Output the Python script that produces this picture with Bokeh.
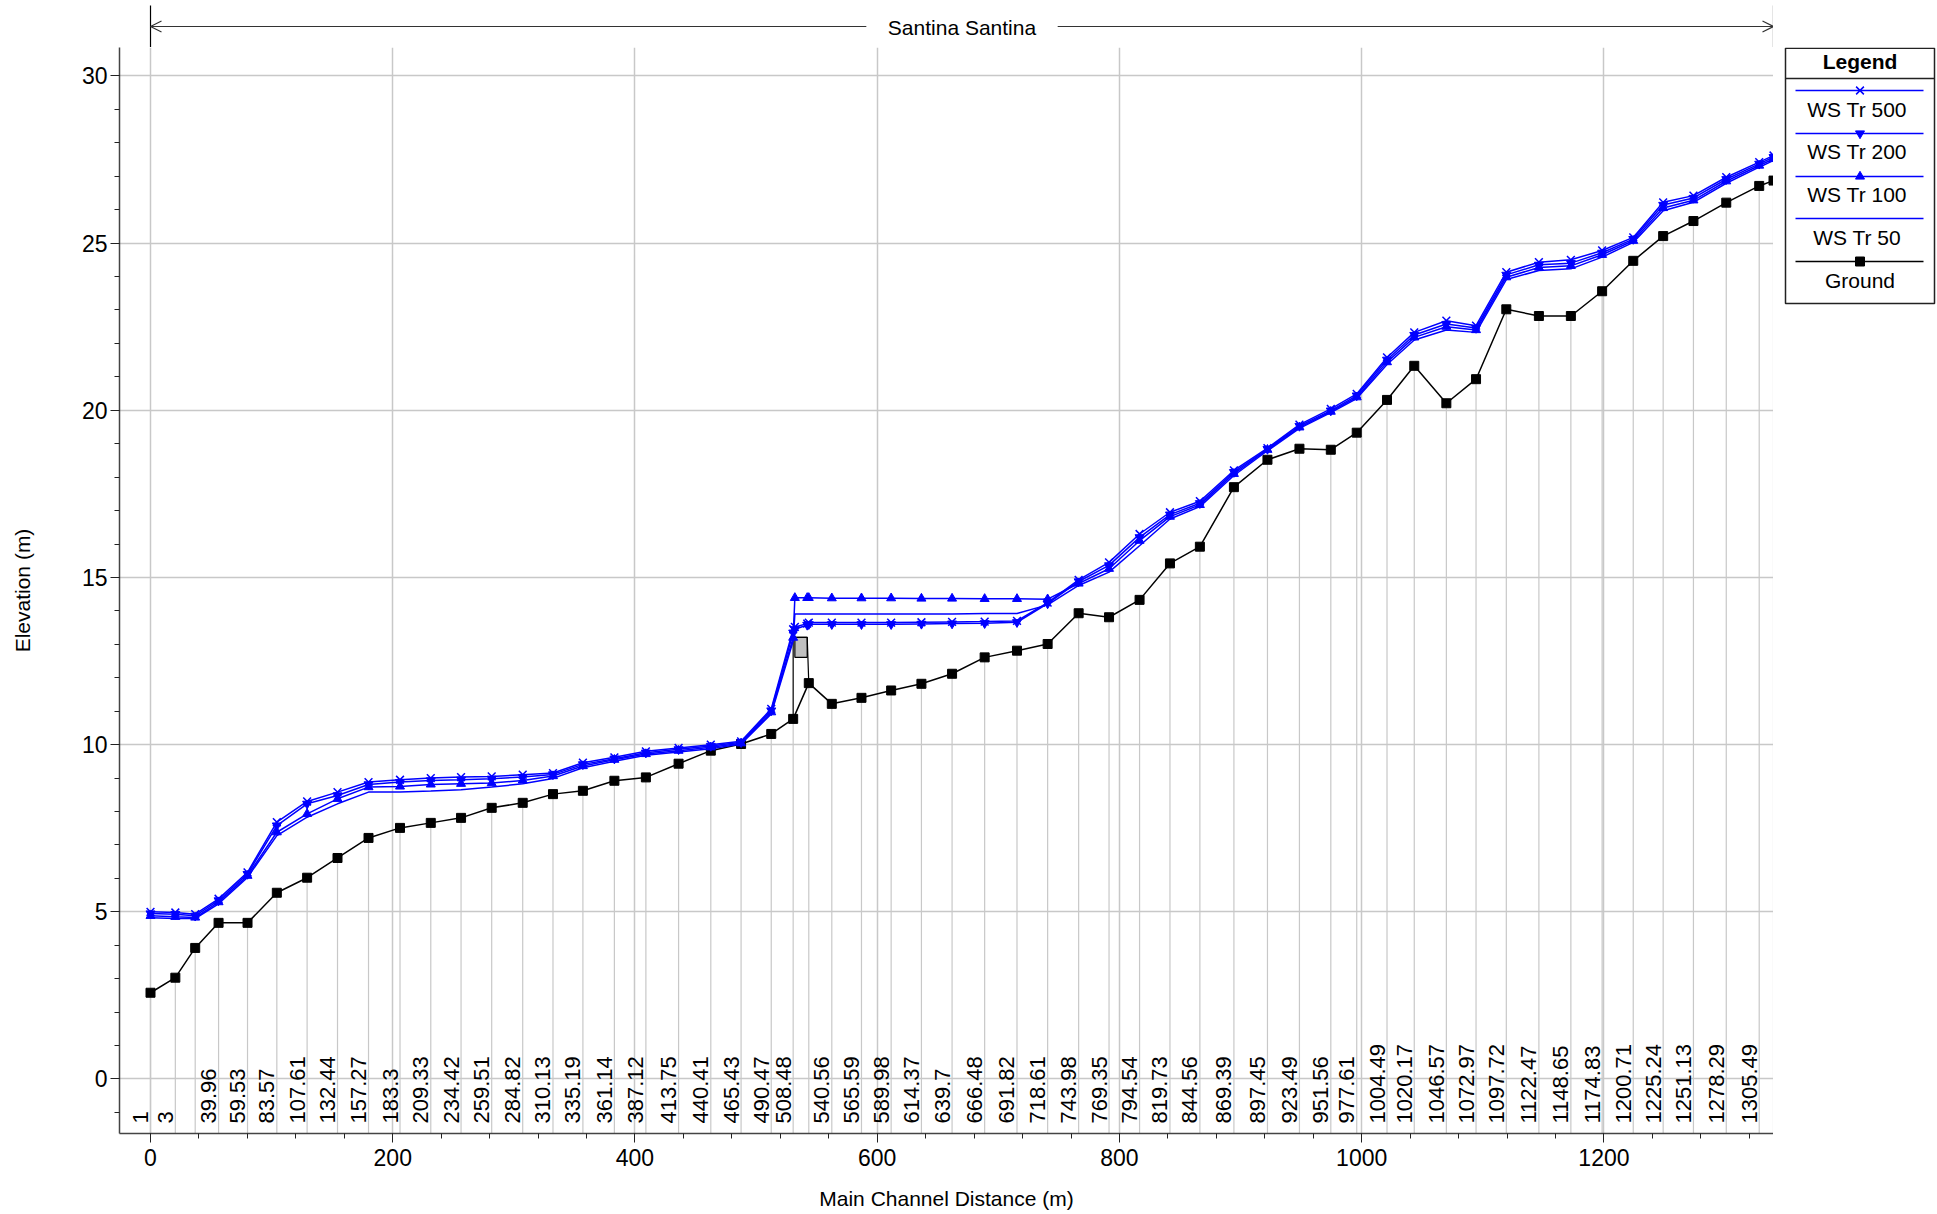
import math
from bokeh.plotting import figure
from bokeh.layouts import column, row
from bokeh.models import Range1d, SingleIntervalTicker, Arrow, OpenHead
from bokeh.embed import file_html
from bokeh.resources import INLINE
from bokeh.core.properties import value

FONT = "Liberation Sans"

# ---------------- data ----------------
reach_name = "Santina Santina"
station_dist = [0.0, 20.5, 36.9, 56.2, 80.1, 104.3, 129.3, 154.4, 180.0, 206.0,
                231.4, 256.4, 281.7, 307.3, 332.3, 357.0, 383.0, 409.0, 436.0, 462.6,
                487.6, 512.5, 530.6, 543.5, 562.5, 587.0, 611.5, 636.5, 661.8, 688.7,
                715.4, 740.7, 766.3, 791.4, 816.6, 841.7, 866.4, 894.5, 922.2, 948.6,
                974.5, 995.9, 1020.9, 1043.4, 1069.9, 1094.4, 1119.4, 1146.3, 1172.7, 1198.5,
                1224.2, 1248.9, 1273.9, 1301.0, 1328.2, 1340.0]
station_labels = ["1", "3", "", "39.96", "59.53", "83.57", "107.61", "132.44", "157.27", "183.3",
                  "209.33", "234.42", "259.51", "284.82", "310.13", "335.19", "361.14", "387.12", "413.75", "440.41",
                  "465.43", "490.47", "508.48", "", "540.56", "565.59", "589.98", "614.37", "639.7", "666.48",
                  "691.82", "718.61", "743.98", "769.35", "794.54", "819.73", "844.56", "869.39", "897.45", "923.49",
                  "951.56", "977.61", "1004.49", "1020.17", "1046.57", "1072.97", "1097.72", "1122.47", "1148.65", "1174.83",
                  "1200.71", "1225.24", "1251.13", "1278.29", "1305.49", ""]
ground = [2.58, 3.03, 3.92, 4.67, 4.67, 5.57, 6.02, 6.61, 7.21, 7.51,
          7.66, 7.81, 8.11, 8.26, 8.52, 8.62, 8.92, 9.02, 9.43, 9.82,
          10.02, 10.32, 10.77, 11.84, 11.22, 11.40, 11.62, 11.82, 12.12, 12.61,
          12.81, 13.01, 13.93, 13.81, 14.33, 15.42, 15.92, 17.70, 18.52, 18.85,
          18.82, 19.33, 20.31, 21.33, 20.21, 20.93, 23.02, 22.82, 22.82, 23.56,
          24.47, 25.21, 25.66, 26.21, 26.71, 26.87]

# bridge (internal sections) between XS 530.6 and XS 543.5
bridge_sections = [532.0, 542.2]
bridge_low_chord = 12.61
bridge_high_chord = 13.21

ws_dist = station_dist[:23] + bridge_sections + station_dist[23:]
ws_500 = [5.00, 4.98, 4.93, 5.39, 6.18, 7.68, 8.30, 8.58, 8.88, 8.95,
          9.00, 9.03, 9.05, 9.10, 9.15, 9.46, 9.62, 9.80, 9.90, 10.00,
          10.10, 11.07, 13.45, 13.52, 13.62,
          13.65, 13.65, 13.65, 13.65, 13.66, 13.67, 13.68, 13.70, 14.25,
          14.93, 15.45, 16.30, 16.95, 17.28, 18.20, 18.87, 19.57, 20.04, 20.49,
          21.58, 22.33, 22.68, 22.53, 24.13, 24.43, 24.50, 24.78, 25.17, 26.22,
          26.42, 26.97, 27.42, 27.62]
ws_200 = [4.95, 4.93, 4.88, 5.34, 6.13, 7.58, 8.23, 8.48, 8.81, 8.88,
          8.93, 8.95, 8.98, 9.03, 9.11, 9.41, 9.58, 9.76, 9.86, 9.96,
          10.07, 11.02, 13.35, 13.45, 13.58,
          13.60, 13.60, 13.60, 13.60, 13.61, 13.62, 13.63, 13.66, 14.22,
          14.88, 15.36, 16.20, 16.88, 17.22, 18.15, 18.84, 19.53, 19.99, 20.44,
          21.51, 22.25, 22.58, 22.46, 24.05, 24.35, 24.40, 24.71, 25.12, 26.14,
          26.35, 26.91, 27.37, 27.57]
ws_100 = [4.88, 4.85, 4.83, 5.29, 6.08, 7.38, 7.93, 8.38, 8.73, 8.75,
          8.81, 8.83, 8.85, 8.93, 9.06, 9.36, 9.55, 9.72, 9.82, 9.92,
          10.04, 10.97, 13.20, 14.39, 14.39,
          14.39, 14.38, 14.38, 14.38, 14.37, 14.37, 14.36, 14.36, 14.35,
          14.82, 15.26, 16.10, 16.82, 17.17, 18.10, 18.82, 19.49, 19.96, 20.39,
          21.44, 22.18, 22.50, 22.40, 23.98, 24.27, 24.32, 24.65, 25.07, 26.05,
          26.28, 26.85, 27.32, 27.52]
ws_50 = [4.82, 4.80, 4.80, 5.24, 6.03, 7.28, 7.83, 8.23, 8.58, 8.58,
         8.61, 8.65, 8.73, 8.83, 8.99, 9.31, 9.50, 9.68, 9.78, 9.88,
         10.02, 10.92, 13.10, 13.91, 13.91,
         13.91, 13.91, 13.91, 13.91, 13.91, 13.91, 13.92, 13.92, 14.18,
         14.76, 15.16, 15.95, 16.75, 17.12, 18.05, 18.79, 19.46, 19.93, 20.35,
         21.37, 22.10, 22.40, 22.33, 23.91, 24.18, 24.23, 24.58, 25.02, 25.97,
         26.22, 26.79, 27.27, 27.47]

legend_names = ["WS  Tr 500", "WS  Tr 200", "WS  Tr 100", "WS  Tr 50", "Ground"]

# ---------------- style ----------------
BLUE = "#0000ff"
GRID = "#c8c8c8"
X_START, X_END = -25.6, 1340.0
Y_START, Y_END = -1.63, 30.85

FIG_W = 1773        # main figure width (frame 119..1773)
LEFT = 119
TOP_H = 47          # strip above the frame
MAIN_H = 1166       # main figure height
FRAME_H = 1086      # frame height of the main figure
LEG_W = 164

xr = Range1d(X_START, X_END)

# ---------------- top strip (reach arrow) ----------------
top = figure(width=FIG_W, height=TOP_H, x_range=xr, y_range=Range1d(TOP_H, 0),
             min_border_left=LEFT, min_border_right=0, min_border_top=0, min_border_bottom=0,
             toolbar_location=None, output_backend="svg",
             x_axis_location=None, y_axis_location=None)
top.grid.visible = False
top.outline_line_color = None
top.background_fill_color = "white"
top.border_fill_color = "white"

reach_start = station_dist[0]
reach_end = station_dist[-1]
reach_mid = (reach_start + reach_end) / 2.0
gap_half = 79.0
top.segment(x0=[reach_start, reach_end], y0=[5, 5], x1=[reach_start, reach_end], y1=[TOP_H, TOP_H],
            line_color="black", line_width=1.2)
top.add_layout(Arrow(x_start=reach_mid - gap_half, y_start=26, x_end=reach_start, y_end=26,
                     line_color="#333333", line_width=1.2,
                     end=OpenHead(size=11, line_color="#333333", line_width=1.2)))
top.add_layout(Arrow(x_start=reach_mid + gap_half, y_start=26, x_end=reach_end, y_end=26,
                     line_color="#333333", line_width=1.2,
                     end=OpenHead(size=11, line_color="#333333", line_width=1.2)))
top.text(x=[reach_mid], y=[27], text=[reach_name], text_align="center", text_baseline="middle",
         text_font=value(FONT), text_font_size="21px", text_color="black")

# ---------------- main profile plot ----------------
p = figure(width=FIG_W, height=MAIN_H, x_range=xr, y_range=Range1d(Y_START, Y_END),
           min_border_left=LEFT, min_border_right=0, min_border_top=0,
           min_border_bottom=MAIN_H - FRAME_H,
           toolbar_location=None, output_backend="svg")
p.outline_line_color = None
p.background_fill_color = "white"
p.border_fill_color = "white"

p.xaxis.ticker = SingleIntervalTicker(interval=200, num_minor_ticks=5)
p.yaxis.ticker = SingleIntervalTicker(interval=5, num_minor_ticks=5)
for g in (p.xgrid, p.ygrid):
    g.grid_line_color = GRID
    g.grid_line_width = 1.5
    g.minor_grid_line_color = None
for ax in (p.xaxis, p.yaxis):
    ax.axis_line_color = "#444444"
    ax.axis_line_width = 1.5
    ax.major_tick_line_color = "#222222"
    ax.minor_tick_line_color = "#222222"
    ax.major_tick_in = 0
    ax.minor_tick_in = 0
    ax.major_tick_out = 9
    ax.minor_tick_out = 5
    ax.major_label_text_font = FONT
    ax.major_label_text_font_size = "23px"
    ax.major_label_text_color = "black"
    ax.axis_label_text_font = FONT
    ax.axis_label_text_font_size = "21px"
    ax.axis_label_text_font_style = "normal"
    ax.axis_label_text_color = "black"
p.xaxis.axis_label = "Main Channel Distance (m)"
p.yaxis.axis_label = "Elevation (m)"
p.xaxis.major_label_standoff = 6
p.xaxis.axis_label_standoff = 18
p.yaxis.major_label_standoff = 3
p.yaxis.axis_label_standoff = 45

# cross-section lines
p.segment(x0=station_dist, y0=[Y_START] * len(station_dist), x1=station_dist, y1=ground,
          line_color=GRID, line_width=1.2)

# river station labels (just left of their cross-section line)
p.text(x=station_dist, y=[Y_START] * len(station_dist), text=station_labels,
       angle=math.pi / 2, text_align="left", text_baseline="alphabetic",
       x_offset=-10, y_offset=-10, text_font=value(FONT), text_font_size="22px",
       text_color="black")

# bridge
p.quad(left=[bridge_sections[0]], right=[bridge_sections[1]],
       bottom=[bridge_low_chord], top=[bridge_high_chord],
       fill_color="#c0c0c0", line_color="black", line_width=1.2)
p.line([station_dist[22], station_dist[22], bridge_sections[1], station_dist[23]],
       [ground[22], bridge_high_chord, bridge_high_chord, ground[23]],
       line_color="black", line_width=1.2)

# ground
p.line(station_dist, ground, line_color="black", line_width=1.5)
p.scatter(station_dist, ground, marker="square", size=9, fill_color="black", line_color="black")

# water surfaces
for ws in (ws_50, ws_100, ws_200, ws_500):
    p.line(ws_dist, ws, line_color=BLUE, line_width=1.5)
p.scatter(ws_dist, ws_500, marker="x", size=11, line_color=BLUE, line_width=1.5)
p.scatter(ws_dist, ws_200, marker="inverted_triangle", size=9, fill_color=BLUE, line_color=BLUE)
p.scatter(ws_dist, ws_100, marker="triangle", size=9, fill_color=BLUE, line_color=BLUE)

# ---------------- legend panel (its frame is aligned with the main frame) ----------------
leg = figure(width=LEG_W, height=MAIN_H, x_range=Range1d(0, LEG_W), y_range=Range1d(FRAME_H, 0),
             min_border_left=0, min_border_right=0, min_border_top=0,
             min_border_bottom=MAIN_H - FRAME_H,
             toolbar_location=None, output_backend="svg",
             x_axis_location=None, y_axis_location=None)
leg.grid.visible = False
leg.outline_line_color = None
leg.background_fill_color = "white"
leg.border_fill_color = "white"

BOX_L, BOX_R = 12, 161
CX = (BOX_L + BOX_R) / 2.0
leg.quad(left=[BOX_L], right=[BOX_R], top=[0.8], bottom=[256], fill_color="white",
         line_color="#222222", line_width=1.5)
leg.segment(x0=[BOX_L], y0=[31], x1=[BOX_R], y1=[31], line_color="#222222", line_width=1.5)
leg.text(x=[CX], y=[14], text=["Legend"], text_align="center", text_baseline="middle",
         text_font=value(FONT), text_font_size="21px", text_font_style="bold", text_color="black")

line_y = [43, 86, 129, 171, 214]
text_y = [62, 104, 147, 190, 233]
line_colors = [BLUE, BLUE, BLUE, BLUE, "black"]
leg.segment(x0=[BOX_L + 10] * 5, y0=line_y, x1=[BOX_R - 11] * 5, y1=line_y,
            line_color=line_colors, line_width=1.5)
leg.scatter([CX], [line_y[0]], marker="x", size=11, line_color=BLUE, line_width=1.5)
leg.scatter([CX], [line_y[1]], marker="inverted_triangle", size=9, fill_color=BLUE, line_color=BLUE)
leg.scatter([CX], [line_y[2]], marker="triangle", size=9, fill_color=BLUE, line_color=BLUE)
leg.scatter([CX], [line_y[4]], marker="square", size=9, fill_color="black", line_color="black")
leg.text(x=[CX] * 5, y=text_y, text=legend_names, text_align="center", text_baseline="middle",
         text_font=value(FONT), text_font_size="21px", text_color="black")

layout = column(top, row(p, leg))
open("out.html", "w").write(file_html(layout, INLINE))
